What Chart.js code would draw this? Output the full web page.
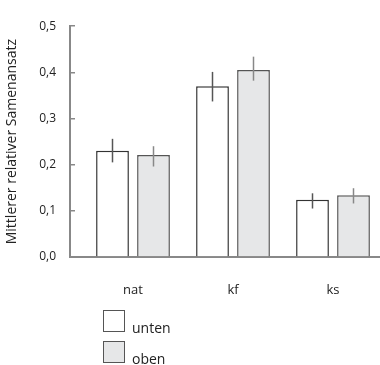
<!DOCTYPE html>
<html>
<head>
<meta charset="utf-8">
<script src="https://cdn.jsdelivr.net/npm/chart.js@4.4.1/dist/chart.umd.min.js"></script>
<style>
  body { margin: 0; background: #fff; }
  #wrap { position: relative; width: 380px; height: 365px; }
  #legend { position: absolute; left: 103px; top: 310px; font-family: "Open Sans", sans-serif; font-size: 14px; color: #222; }
  .item { display: flex; align-items: flex-end; height: 22px; margin-bottom: 9px; }
  .box { width: 20px; height: 20px; border: 1px solid #555; margin-right: 7px; }
  .item span { line-height: 14px; margin-bottom: -3px; }
</style>
</head>
<body>
<div id="wrap">
  <canvas id="chart" width="380" height="365"></canvas>
  <div id="legend"></div>
</div>
<script>
const categories = ['nat', 'kf', 'ks']
const seriesNames = ['unten', 'oben']
const unten = [0.230, 0.370, 0.124]
const untenLow = [0.205, 0.337, 0.105]
const untenHigh = [0.256, 0.401, 0.138]
const oben = [0.221, 0.405, 0.134]
const obenLow = [0.196, 0.382, 0.116]
const obenHigh = [0.240, 0.434, 0.149]
const yTicks = [0, 0.1, 0.2, 0.3, 0.4, 0.5]

const font = "'Open Sans', sans-serif"

function points(values){
    return values.map((v, i) => ({x: i, y: v}))
}

// vertical error lines, no caps
const errorBars = {
    id: 'errorBars',
    afterDatasetsDraw(chart){
        const ctx = chart.ctx
        const y = chart.scales.y
        const ranges = [[untenLow, untenHigh], [obenLow, obenHigh]]
        chart.data.datasets.forEach((ds, d) => {
            const meta = chart.getDatasetMeta(d)
            meta.data.forEach((bar, i) => {
                ctx.save()
                ctx.strokeStyle = d === 0 ? '#555' : '#888'
                ctx.lineWidth = 1.5
                ctx.beginPath()
                ctx.moveTo(bar.x, y.getPixelForValue(ranges[d][0][i]))
                ctx.lineTo(bar.x, y.getPixelForValue(ranges[d][1][i]))
                ctx.stroke()
                ctx.restore()
            })
        })
    }
}

const ctx = document.getElementById('chart').getContext('2d')
const myChart = new Chart(ctx, {
    type: 'bar',
    data: {
        datasets: [{
            label: seriesNames[0],
            data: points(unten),
            backgroundColor: '#ffffff',
            borderColor: '#333',
            borderWidth: 1.5
        }, {
            label: seriesNames[1],
            data: points(oben),
            backgroundColor: '#e6e7e8',
            borderColor: '#555',
            borderWidth: 1.5
        }]
    },
    options: {
        responsive: false,
        animation: false,
        categoryPercentage: 0.82,
        barPercentage: 0.8,
        layout: { padding: { top: 15, right: 0, bottom: 68, left: 0 } },
        plugins: {
            legend: { display: false },
            tooltip: { enabled: false }
        },
        scales: {
            x: {
                type: 'linear',
                offset: false,
                min: -0.63,
                max: 2.47,
                afterBuildTicks: s => { s.ticks = categories.map((c, i) => ({value: i})) },
                afterFit: s => { s.height = 40 },
                grid: { display: false },
                border: { display: true, color: '#888', width: 2 },
                ticks: {
                    padding: 17,
                    color: '#222',
                    font: { family: font, size: 13 },
                    callback: v => categories[v]
                }
            },
            y: {
                min: 0,
                max: 0.5,
                afterBuildTicks: s => { s.ticks = yTicks.map(v => ({value: v})) },
                afterFit: s => { s.width = 70 },
                grid: { drawOnChartArea: false, tickLength: -5, color: '#888', lineWidth: 1.5 },
                border: { display: true, color: '#888', width: 2 },
                ticks: {
                    padding: 19,
                    color: '#222',
                    font: { family: font, size: 12 },
                    callback: v => v.toFixed(1).replace('.', ',')
                },
                title: {
                    display: true,
                    text: 'Mittlerer relativer Samenansatz',
                    color: '#222',
                    font: { family: font, size: 14 },
                    padding: { top: 4, bottom: 0 }
                }
            }
        }
    },
    plugins: [errorBars]
})

// legend under the chart, one row per series
const legendBox = document.getElementById('legend')
myChart.data.datasets.forEach(ds => {
    const row = document.createElement('div')
    row.className = 'item'
    const box = document.createElement('div')
    box.className = 'box'
    box.style.background = ds.backgroundColor
    const label = document.createElement('span')
    label.textContent = ds.label
    row.append(box, label)
    legendBox.append(row)
})
</script>
</body>
</html>
